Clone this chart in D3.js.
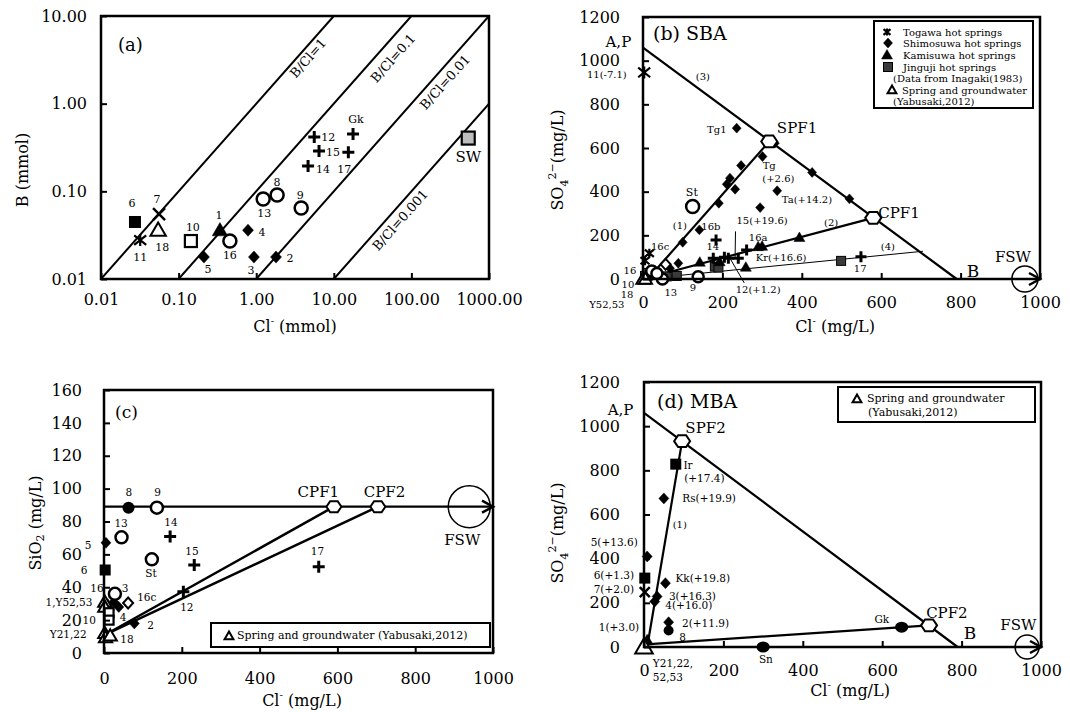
<!DOCTYPE html>
<html><head><meta charset="utf-8">
<script src="https://cdn.jsdelivr.net/npm/d3@7"></script>
<style>body{margin:0;background:#fff} svg text{font-family:"DejaVu Serif",serif;fill:#000}</style>
</head><body><svg id="c" width="1070" height="712"></svg>
<script>
// ================= DATA =================
// Panel (a): B vs Cl (mmol), log-log
const aTickX = [0.01, 0.1, 1, 10, 100, 1000];
const aTickY = [0.01, 0.1, 1, 10];
const aRatios = [1, 0.1, 0.01, 0.001];
const aRatioLabels = ["B/Cl=1", "B/Cl=0.1", "B/Cl=0.01", "B/Cl=0.001"];
const aPoints = [
  {id:"6", cl:0.0274, b:0.0447, type:"sq"},
  {id:"7", cl:0.056, b:0.055, type:"x"},
  {id:"11", cl:0.032, b:0.0278, type:"star"},
  {id:"18", cl:0.0545, b:0.036, type:"triOpen"},
  {id:"10", cl:0.144, b:0.0271, type:"sqOpen"},
  {id:"1", cl:0.341, b:0.036, type:"tri"},
  {id:"16", cl:0.458, b:0.0271, type:"circOpen"},
  {id:"5", cl:0.212, b:0.0178, type:"dia"},
  {id:"4", cl:0.784, b:0.036, type:"dia"},
  {id:"3", cl:0.935, b:0.0178, type:"dia"},
  {id:"2", cl:1.80, b:0.0178, type:"dia"},
  {id:"13", cl:1.23, b:0.0817, type:"circOpen"},
  {id:"8", cl:1.86, b:0.0907, type:"circOpen"},
  {id:"9", cl:3.8, b:0.0645, type:"circOpen"},
  {id:"12", cl:5.6, b:0.416, type:"plus"},
  {id:"15", cl:6.45, b:0.288, type:"plus"},
  {id:"14", cl:4.66, b:0.194, type:"plus"},
  {id:"17", cl:15.4, b:0.28, type:"plus"},
  {id:"Gk", cl:17.7, b:0.45, type:"plus"},
  {id:"SW", cl:540, b:0.405, type:"sqGray"}
];

// Panel (b) SBA: SO4 vs Cl (mg/L)
const bTicksX = [0, 200, 400, 600, 800, 1000];
const bTicksY = [0, 200, 400, 600, 800, 1000, 1200];
const bEndMembers = {AP:[0,1060], B:[790,0], SPF1:[318,630], CPF1:[580,280], L1start:[12,0], L4end:[705,127], FSW:[962,0]};
const bTogawa = [[3,946],[16,118],[5,84]];
const bShimosuwa = [[236,691],[301,561],[247,520],[219,462],[211,434],[232,411],[191,347],[142,225],[100,168],
  [332,622],[426,488],[520,367],[338,404],[295,327],[89,72],[68,49],[30,40]];
const bKamisuwa = [[394,190],[290,148],[300,150],[143,77],[259,54],[193,79],[10,10]];
const bJinguji = [[499,83],[181,57],[190,52],[85,14],[5,14],[10,28],[25,20],[60,12]];
const bPlus = [[184,179],[177,95],[215,95],[240,95],[261,133],[549,102],[205,100]];
const bCircOpen = [[125,332],[49,0],[139,10],[22,37],[35,25]];
const bDiaOpen = [[57,67]];
const bTriOpen = [[0,0],[6,0]];

// Panel (c): SiO2 vs Cl (mg/L)
const cTicksX = [0, 200, 400, 600, 800, 1000];
const cTicksY = [0, 20, 40, 60, 80, 100, 120, 140, 160];
const cEndMembers = {CPF1:[591,89], CPF2:[704,89], start:[10,12], FSW:[939,89], level:89};
const cPoints = [
  {id:"8", cl:63, si:88.4, type:"circ"},
  {id:"9", cl:136, si:88.4, type:"circOpen"},
  {id:"13", cl:45, si:70.4, type:"circOpen"},
  {id:"14", cl:170, si:70.8, type:"plus"},
  {id:"15", cl:232, si:53.5, type:"plus"},
  {id:"St", cl:123, si:57, type:"circOpen"},
  {id:"17", cl:552, si:52.5, type:"plus"},
  {id:"12", cl:204, si:37.3, type:"plus"},
  {id:"5", cl:5, si:67, type:"dia"},
  {id:"6", cl:3, si:50.5, type:"sq"},
  {id:"3", cl:25, si:31, type:"dia"},
  {id:"16", cl:28, si:36, type:"circOpen"},
  {id:"4", cl:38, si:28, type:"dia"},
  {id:"16c", cl:62, si:30.4, type:"diaOpen"},
  {id:"1", cl:10, si:29, type:"tri"},
  {id:"Y52", cl:2, si:31, type:"triOpen"},
  {id:"Y53", cl:2, si:28, type:"triOpen"},
  {id:"10", cl:13, si:24.5, type:"sqOpen"},
  {id:"10b", cl:13, si:20, type:"sqOpen"},
  {id:"Y21", cl:2, si:12, type:"triOpen"},
  {id:"Y22", cl:4, si:9.5, type:"triOpen"},
  {id:"18", cl:16, si:10.5, type:"triOpen"},
  {id:"2", cl:78, si:18, type:"dia"}
];

// Panel (d) MBA: SO4 vs Cl (mg/L)
const dEndMembers = {AP:[0,1060], B:[790,0], SPF2:[96,932], CPF2:[718,98], L1start:[8,0], L2start:[5,12], FSW:[965,0]};
const dPoints = [
  {id:"Ir", cl:80, so4:828, type:"sq"},
  {id:"Rs", cl:50, so4:673, type:"dia"},
  {id:"5", cl:8, so4:410, type:"dia"},
  {id:"6", cl:2, so4:312, type:"sq"},
  {id:"7", cl:2, so4:248, type:"x"},
  {id:"Kk", cl:54, so4:289, type:"dia"},
  {id:"3", cl:33, so4:229, type:"dia"},
  {id:"4", cl:27, so4:206, type:"dia"},
  {id:"2", cl:62, so4:112, type:"dia"},
  {id:"8", cl:62, so4:75, type:"circ"},
  {id:"1", cl:8, so4:30, type:"tri"},
  {id:"Gk", cl:649, so4:90, type:"ell"},
  {id:"Sn", cl:300, so4:0, type:"ell"},
  {id:"Y", cl:0, so4:0, type:"triOpenBig"}
];

// ================= LAYOUT (labels, positions) =================
const LA = {x0:101, x1:489, y0:16, y1:279};
const LB = {x0:643, x1:1040, y0:17, y1:279};
const LC = {x0:104, x1:493, y0:390, y1:653};
const LD = {x0:644, x1:1041, y0:382, y1:647};

const aLabelOff = {"6":[-3,-18],"7":[-2,-15],"11":[0,17],"18":[4,17],"10":[2,-14],"1":[-1,-15],"16":[0,14],
  "5":[4,12],"4":[14,2],"3":[-3,13],"2":[14,1],"13":[1,14],"8":[0,-13],"9":[-1,-13],"12":[14,0],"15":[14,1],
  "14":[15,3],"17":[-4,17],"Gk":[3,-15],"SW":[0,19]};
const aRatioLabelPos = [[4.66,3.31],[57.9,3.31],[271,1.76],[71.4,0.047]];

const bAnn = [
 ["A,P",-62,1085,15],["11(-7.1)",-91,936,10],["(3)",151,927,10],["Tg1",186,683,10],
 ["SPF1",388,693,15],["Tg",318,520,10],["(+2.6)",341,459,10],["St",123,395,11],
 ["Ta(+14.2)",413,362,10],["CPF1",645,303,15],["(1)",93,243,10],["16b",171,239,10],
 ["15(+19.6)",300,267,10],["(2)",474,257,10],["16a",290,192,10],["16c",43,147,10],
 ["14",176,147,10],["(4)",617,147,10],["Kr(+16.6)",348,98,10],["FSW",932,101,15],
 ["17",547,46,10],["B",831,37,17],["16",-33,37,10],["10",-38,-23,10],["13",70,-60,10],
 ["9",126,-37,10],["12(+1.2)",290,-50,10],["18",-40,-70,10],["Y52,53",-91,-118,10]
];
const bLeaders = [[[233,218],[232,100]],[[255,-18],[220,92]]];

const cAnn = [
 ["8",64,98,10.5],["9",138,98,10.5],["CPF1",551,98,15],["CPF2",721,98,15],["13",44,79,10.5],["14",172,80,10.5],
 ["5",-41,66,10.5],["FSW",921,69,15],["15",226,62,10.5],["17",549,62,10.5],["6",-51,50.5,10.5],["St",121,48.7,10.5],
 ["16",-18,39.5,10.5],["3",54,39.5,10.5],["1,Y52,53",-90,31.2,10.5],["16c",110,34.2,10.5],["12",213,28,10.5],["4",49,22,10.5],
 ["10",-38,20,10.5],["2",120,17,10.5],["Y21,22",-92,11.4,10.5],["18",59,8.3,10.5]
];

const dAnn = [
 ["A,P",-59,1073,15],["SPF2",155,990,15],["Ir",111,824,10.5],["(+17.4)",152,764,10.5],
 ["Rs(+19.9)",164,675,10.5],["(1)",90,553,10],["5(+13.6)",-75,474,10.5],["6(+1.3)",-76,327,10.5],
 ["7(+2.0)",-76,262,10.5],["Kk(+19.8)",148,312,10.5],["3(+16.3)",122,233,10.5],["4(+16.0)",113,188,10.5],
 ["2(+11.9)",155,107,10.5],["1(+3.0)",-63,90,10.5],["8",97,47,10.5],["Y21,22,",73,-71,10.5],["52,53",60,-134,10.5],
 ["Gk",599,128,10.5],["CPF2",763,155,15],["B",821,65,17],["FSW",943,101,15],["Sn",307,-53,10.5]
];

// ================= DRAWING =================
const svg = d3.select("#c");

function drawSym(g, type, x, y, k) {
  const blk = "#000";
  if (type === "sq" || type === "sqDark" || type === "sqOpen" || type === "sqGray") {
    const fill = {sq:"#000", sqDark:"#3a3a3a", sqOpen:"#fff", sqGray:"#bdbdbd"}[type];
    const sw = type === "sq" ? 0 : (type === "sqDark" ? 1 : 2.2);
    g.append("rect").attr("x", x-k).attr("y", y-k).attr("width", 2*k).attr("height", 2*k)
      .attr("fill", fill).attr("stroke", blk).attr("stroke-width", sw);
  } else if (type === "dia" || type === "diaOpen") {
    g.append("path").attr("d", `M${x},${y-k*1.1}L${x+k},${y}L${x},${y+k*1.1}L${x-k},${y}Z`)
      .attr("fill", type === "dia" ? blk : "#fff").attr("stroke", blk).attr("stroke-width", type === "dia" ? 0.5 : 2);
  } else if (type === "tri" || type === "triOpen" || type === "triOpenBig") {
    g.append("path").attr("d", `M${x},${y-k*1.1}L${x+k*1.1},${y+k*0.8}L${x-k*1.1},${y+k*0.8}Z`)
      .attr("fill", type === "tri" ? blk : "#fff").attr("stroke", blk).attr("stroke-width", type === "tri" ? 0.5 : 2);
  } else if (type === "circ" || type === "circOpen") {
    g.append("circle").attr("cx", x).attr("cy", y).attr("r", k)
      .attr("fill", type === "circ" ? blk : "#fff").attr("stroke", blk).attr("stroke-width", type === "circ" ? 0 : 2.5);
  } else if (type === "ell") {
    g.append("ellipse").attr("cx", x).attr("cy", y).attr("rx", k*1.2).attr("ry", k).attr("fill", blk);
  } else if (type === "plus") {
    g.append("path").attr("d", `M${x-k},${y}H${x+k}M${x},${y-k}V${y+k}`).attr("stroke", blk).attr("stroke-width", 3).attr("fill","none");
  } else if (type === "x") {
    g.append("path").attr("d", `M${x-k},${y-k}L${x+k},${y+k}M${x-k},${y+k}L${x+k},${y-k}`).attr("stroke", blk).attr("stroke-width", 2.5).attr("fill","none");
  } else if (type === "star") {
    g.append("path").attr("d", `M${x-k},${y-k*0.8}L${x+k},${y+k*0.8}M${x-k},${y+k*0.8}L${x+k},${y-k*0.8}M${x},${y-k}V${y+k}`)
      .attr("stroke", blk).attr("stroke-width", 2.2).attr("fill","none");
  } else if (type === "hex") {
    const pts = d3.range(6).map(i => [x + k*Math.cos(i*Math.PI/3), y + k*0.85*Math.sin(i*Math.PI/3)]);
    g.append("path").attr("d", "M" + pts.map(p => p.join(",")).join("L") + "Z")
      .attr("fill", "#fff").attr("stroke", blk).attr("stroke-width", 2);
  }
}

function frame(L) {
  svg.append("rect").attr("x", L.x0).attr("y", L.y0).attr("width", L.x1-L.x0).attr("height", L.y1-L.y0)
    .attr("fill", "none").attr("stroke", "#000").attr("stroke-width", 2.5);
}
function axes(L, xs, ys, xt, yt, fx, fy, padX, padY) {
  const gx = svg.append("g").attr("transform", `translate(0,${L.y1})`)
    .call(d3.axisBottom(xs).tickValues(xt).tickFormat(fx).tickSize(-6).tickSizeOuter(0).tickPadding(padX));
  const gy = svg.append("g").attr("transform", `translate(${L.x0},0)`)
    .call(d3.axisLeft(ys).tickValues(yt).tickFormat(fy).tickSize(-6).tickSizeOuter(0).tickPadding(padY));
  [gx, gy].forEach(g => {
    g.select(".domain").remove();
    g.attr("font-family", "DejaVu Serif").attr("font-size", 16);
    g.selectAll("line").attr("stroke-width", 2);
    g.selectAll("text").attr("fill", "#000");
  });
}
function txt(x, y, s, size, anchor) {
  return svg.append("text").attr("x", x).attr("y", y).attr("font-size", size)
    .attr("text-anchor", anchor || "middle").attr("dominant-baseline", "central").text(s);
}
function line(xs, ys, p, q, w) {
  svg.append("line").attr("x1", xs(p[0])).attr("y1", ys(p[1])).attr("x2", xs(q[0])).attr("y2", ys(q[1]))
    .attr("stroke", "#000").attr("stroke-width", w || 2);
}
function chevron(px, py) {
  svg.append("path").attr("d", `M${px-11},${py-6}L${px},${py}L${px-11},${py+6}`)
    .attr("fill", "none").attr("stroke", "#000").attr("stroke-width", 2.5);
}
function xTitle(x, y, unit) {
  const t = svg.append("text").attr("x", x).attr("y", y).attr("font-size", 16).attr("text-anchor", "middle").attr("dominant-baseline","central");
  t.append("tspan").text("Cl");
  t.append("tspan").attr("font-size", 10).attr("dy", -6).text("-");
  t.append("tspan").attr("dy", 6).text(" (" + unit + ")");
}
function so4Title(x, y) {
  const t = svg.append("text").attr("transform", `translate(${x},${y}) rotate(-90)`).attr("font-size", 16).attr("text-anchor", "middle");
  t.append("tspan").text("SO");
  t.append("tspan").attr("font-size", 11).attr("dy", 5).text("4");
  t.append("tspan").attr("font-size", 11).attr("dy", -12).text("2−");
  t.append("tspan").attr("dy", 7).text("(mg/L)");
}

// ---------- Panel (a) ----------
const xa = d3.scaleLog().domain([0.01, 1000]).range([LA.x0, LA.x1]);
const ya = d3.scaleLog().domain([0.01, 10]).range([LA.y1, LA.y0]);
{
  const defs = svg.append("defs");
  defs.append("clipPath").attr("id", "clipA").append("rect").attr("x", LA.x0).attr("y", LA.y0).attr("width", LA.x1-LA.x0).attr("height", LA.y1-LA.y0);
  const gl = svg.append("g").attr("clip-path", "url(#clipA)");
  aRatios.forEach(r => {
    gl.append("line").attr("x1", xa(0.01/r)).attr("y1", ya(0.01)).attr("x2", xa(10/r)).attr("y2", ya(10))
      .attr("stroke", "#000").attr("stroke-width", 2);
  });
  const ang = Math.atan2(ya(0.01) - ya(0.1), xa(0.1) - xa(0.01)) * 180 / Math.PI;
  aRatioLabels.forEach((s, i) => {
    const p = aRatioLabelPos[i];
    svg.append("text").attr("transform", `translate(${xa(p[0])},${ya(p[1])}) rotate(${-ang})`)
      .attr("font-size", 13).attr("text-anchor", "middle").attr("dominant-baseline", "central").text(s);
  });
  const sizeA = {sq:6, sqOpen:6, sqGray:6.5, dia:5.5, tri:7, triOpen:7, circOpen:6.5, plus:6, x:6, star:6};
  const g = svg.append("g");
  aPoints.forEach(d => drawSym(g, d.type, xa(d.cl), ya(d.b), sizeA[d.type]));
  aPoints.forEach(d => {
    const o = aLabelOff[d.id];
    txt(xa(d.cl) + o[0], ya(d.b) + o[1], d.id, d.id === "SW" ? 15 : 11);
  });
  frame(LA);
  axes(LA, xa, ya, aTickX, aTickY, d3.format(".2f"), d3.format(".2f"), 15, 14);
  txt(118, 44, "(a)", 18, "start");
  xTitle(295, 326, "mmol");
  svg.append("text").attr("transform", `translate(22,170) rotate(-90)`).attr("font-size", 16).attr("text-anchor", "middle")
    .attr("dominant-baseline","central").text("B (mmol)");
}

// ---------- Panel (b) ----------
const xb = d3.scaleLinear().domain([0, 1000]).range([LB.x0, LB.x1]);
const yb = d3.scaleLinear().domain([0, 1200]).range([LB.y1, LB.y0]);
{
  const E = bEndMembers;
  line(xb, yb, E.AP, E.B, 2.2);
  line(xb, yb, E.L1start, E.SPF1, 2.2);
  line(xb, yb, [0,0], E.CPF1, 2.2);
  line(xb, yb, [0,0], E.L4end, 1);
  bLeaders.forEach(l => line(xb, yb, l[0], l[1], 1));
  svg.append("circle").attr("cx", xb(E.FSW[0])).attr("cy", yb(0)).attr("r", 13).attr("fill", "none").attr("stroke", "#000").attr("stroke-width", 1.5);
  const g = svg.append("g");
  bJinguji.forEach(p => drawSym(g, "sqDark", xb(p[0]), yb(p[1]), 4.5));
  bKamisuwa.forEach(p => drawSym(g, "tri", xb(p[0]), yb(p[1]), 5));
  bShimosuwa.forEach(p => drawSym(g, "dia", xb(p[0]), yb(p[1]), 4.5));
  bPlus.forEach(p => drawSym(g, "plus", xb(p[0]), yb(p[1]), 5.5));
  bCircOpen.forEach((p, i) => drawSym(g, "circOpen", xb(p[0]), yb(p[1]), i === 0 ? 6.5 : 5.5));
  bDiaOpen.forEach(p => drawSym(g, "diaOpen", xb(p[0]), yb(p[1]), 5));
  bTogawa.forEach((p, i) => drawSym(g, "star", xb(p[0]), yb(p[1]), i === 0 ? 6 : 4.5));
  bTriOpen.forEach(p => drawSym(g, "triOpen", xb(p[0]), yb(p[1]), 6));
  drawSym(g, "hex", xb(E.SPF1[0]), yb(E.SPF1[1]), 8);
  drawSym(g, "hex", xb(E.CPF1[0]), yb(E.CPF1[1]), 8);
  frame(LB);
  chevron(xb(1000), yb(0));
  axes(LB, xb, yb, bTicksX, bTicksY, d3.format("d"), d3.format("d"), 18, 23);
  bAnn.forEach(a => txt(xb(a[1]), yb(a[2]), a[0], a[3]));
  txt(653, 33, "(b) SBA", 19, "start");
  // legend
  svg.append("rect").attr("x", 874).attr("y", 21).attr("width", 159).attr("height", 87).attr("fill", "#fff").attr("stroke", "#000").attr("stroke-width", 2);
  const lg = svg.append("g");
  drawSym(lg, "star", 887, 32, 3.5);
  drawSym(lg, "dia", 888, 43, 4.5);
  drawSym(lg, "tri", 887, 55, 5);
  drawSym(lg, "sqDark", 888, 67, 4.5);
  drawSym(lg, "triOpen", 892, 90, 4);
  [["Togawa hot springs",903,32],["Shimosuwa hot springs",903,43],["Kamisuwa hot springs",903,55],
   ["Jinguji hot springs",903,67],["(Data from Inagaki(1983)",893,78],["Spring and groundwater",902,90],
   ["(Yabusaki,2012)",893,101]].forEach(r => txt(r[1], r[2], r[0], 10, "start"));
  xTitle(835, 326, "mg/L");
  so4Title(563, 160);
}

// ---------- Panel (c) ----------
const xc = d3.scaleLinear().domain([0, 1000]).range([LC.x0, LC.x1]);
const yc = d3.scaleLinear().domain([0, 160]).range([LC.y1, LC.y0]);
{
  const E = cEndMembers;
  line(xc, yc, [0, E.level], [1000, E.level], 2.2);
  line(xc, yc, E.start, E.CPF1, 2.5);
  line(xc, yc, E.start, E.CPF2, 2.5);
  svg.append("circle").attr("cx", xc(E.FSW[0])).attr("cy", yc(E.FSW[1])).attr("r", 21).attr("fill", "none").attr("stroke", "#000").attr("stroke-width", 1.5);
  // legend box
  svg.append("rect").attr("x", 211).attr("y", 623).attr("width", 279).attr("height", 24).attr("fill", "#fff").attr("stroke", "#000").attr("stroke-width", 2);
  const g = svg.append("g");
  const sizeC = {sq:5.5, sqOpen:4.5, dia:5, diaOpen:5, tri:6, triOpen:6, circOpen:6, circ:6, plus:6};
  cPoints.forEach(d => drawSym(g, d.type, xc(d.cl), yc(d.si), sizeC[d.type]));
  drawSym(g, "hex", xc(E.CPF1[0]), yc(E.CPF1[1]), 7.5);
  drawSym(g, "hex", xc(E.CPF2[0]), yc(E.CPF2[1]), 7.5);
  frame(LC);
  chevron(xc(1000), yc(E.level));
  axes(LC, xc, yc, cTicksX, cTicksY, d3.format("d"), d3.format("d"), 20, 22);
  cAnn.forEach(a => txt(xc(a[1]), yc(a[2]), a[0], a[3]));
  txt(115, 412, "(c)", 17, "start");
  drawSym(svg, "triOpen", 229, 636, 4);
  txt(237, 635, "Spring and groundwater (Yabusaki,2012)", 11, "start");
  xTitle(302, 700, "mg/L");
  const t = svg.append("text").attr("transform", `translate(35,523) rotate(-90)`).attr("font-size", 16).attr("text-anchor", "middle").attr("dominant-baseline","central");
  t.append("tspan").text("SiO");
  t.append("tspan").attr("font-size", 11).attr("dy", 5).text("2");
  t.append("tspan").attr("dy", -5).text(" (mg/L)");
}

// ---------- Panel (d) ----------
const xd = d3.scaleLinear().domain([0, 1000]).range([LD.x0, LD.x1]);
const yd = d3.scaleLinear().domain([0, 1200]).range([LD.y1, LD.y0]);
{
  const E = dEndMembers;
  line(xd, yd, E.AP, E.B, 2.2);
  line(xd, yd, E.L1start, E.SPF2, 2.2);
  line(xd, yd, E.L2start, E.CPF2, 2.2);
  svg.append("circle").attr("cx", xd(E.FSW[0])).attr("cy", yd(0)).attr("r", 12).attr("fill", "none").attr("stroke", "#000").attr("stroke-width", 1.5);
  const g = svg.append("g");
  const sizeD = {sq:5.5, dia:5, x:5, circ:5, ell:5.5, tri:5.5, triOpenBig:8};
  dPoints.forEach(d => drawSym(g, d.type, xd(d.cl), yd(d.so4), sizeD[d.type]));
  drawSym(g, "hex", xd(E.SPF2[0]), yd(E.SPF2[1]), 8);
  drawSym(g, "hex", xd(E.CPF2[0]), yd(E.CPF2[1]), 8);
  frame(LD);
  chevron(xd(1000), yd(0));
  axes(LD, xd, yd, bTicksX, bTicksY, d3.format("d"), d3.format("d"), 18, 24);
  dAnn.forEach(a => txt(xd(a[1]), yd(a[2]), a[0], a[3]));
  txt(657, 401, "(d) MBA", 19, "start");
  svg.append("rect").attr("x", 838).attr("y", 387).attr("width", 197).attr("height", 35).attr("fill", "#fff").attr("stroke", "#000").attr("stroke-width", 2);
  drawSym(svg, "triOpen", 857, 399, 4);
  txt(867, 398, "Spring and groundwater", 11, "start");
  txt(868, 412, "(Yabusaki,2012)", 11, "start");
  xTitle(850, 690, "mg/L");
  so4Title(563, 533);
}
</script>
</body></html>
